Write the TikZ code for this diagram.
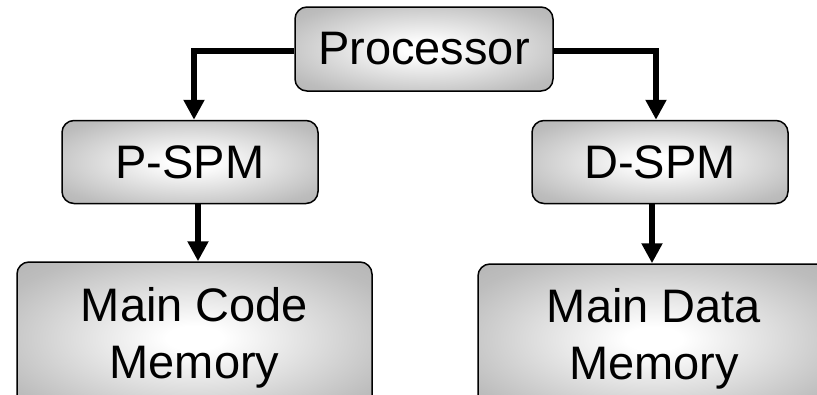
\documentclass[tikz,border=0pt]{standalone}
\usepackage{fontspec}
\setmainfont{Liberation Sans}
\usetikzlibrary{arrows.meta}

% soft white-to-grey glow used to fill the boxes
\definecolor{boxmid}{gray}{0.74}
\definecolor{boxedge}{gray}{0.64}
\pgfdeclareradialshading{boxglow}{\pgfpoint{0bp}{0bp}}{%
  color(0bp)=(white); color(4bp)=(white); color(30bp)=(boxmid); color(50bp)=(boxedge)}

\tikzset{
  blk/.style={draw=black, line width=1.5pt, rounded corners=12pt,
    shading=boxglow, font=\fontsize{47}{57}\selectfont,
    align=center, inner sep=0pt},
  link/.style={line width=6pt, line join=miter,
    -{Triangle[width=20pt,length=20pt]}}
}

\begin{document}
\begin{tikzpicture}[x=1pt,y=-1pt]
\useasboundingbox (0,0) rectangle (817,394);
\clip (0,0) rectangle (817,394);

\node[blk, minimum width=258pt, minimum height=84pt] (proc) at (424,49) {Processor};
\node[blk, minimum width=256pt, minimum height=83pt] (pspm) at (190,162) {P-SPM};
\node[blk, minimum width=256pt, minimum height=83pt] (dspm) at (660,162) {D-SPM};
\node[blk, minimum width=355pt, minimum height=152pt] (code) at (194.5,338) {Main Code\\Memory};
\node[blk, minimum width=352pt, minimum height=150pt] (data) at (654,339) {Main Data\\Memory};

\draw[link] ([yshift=-2pt]proc.west) -| ([xshift=4pt]pspm.north);
\draw[link] ([yshift=-2pt]proc.east) -| ([xshift=-4pt]dspm.north);
\draw[link] ([xshift=8pt]pspm.south) -- ([xshift=8pt]pspm.south |- code.north);
\draw[link] ([xshift=-8pt]dspm.south) -- ([xshift=-8pt]dspm.south |- data.north);
\end{tikzpicture}
\end{document}
